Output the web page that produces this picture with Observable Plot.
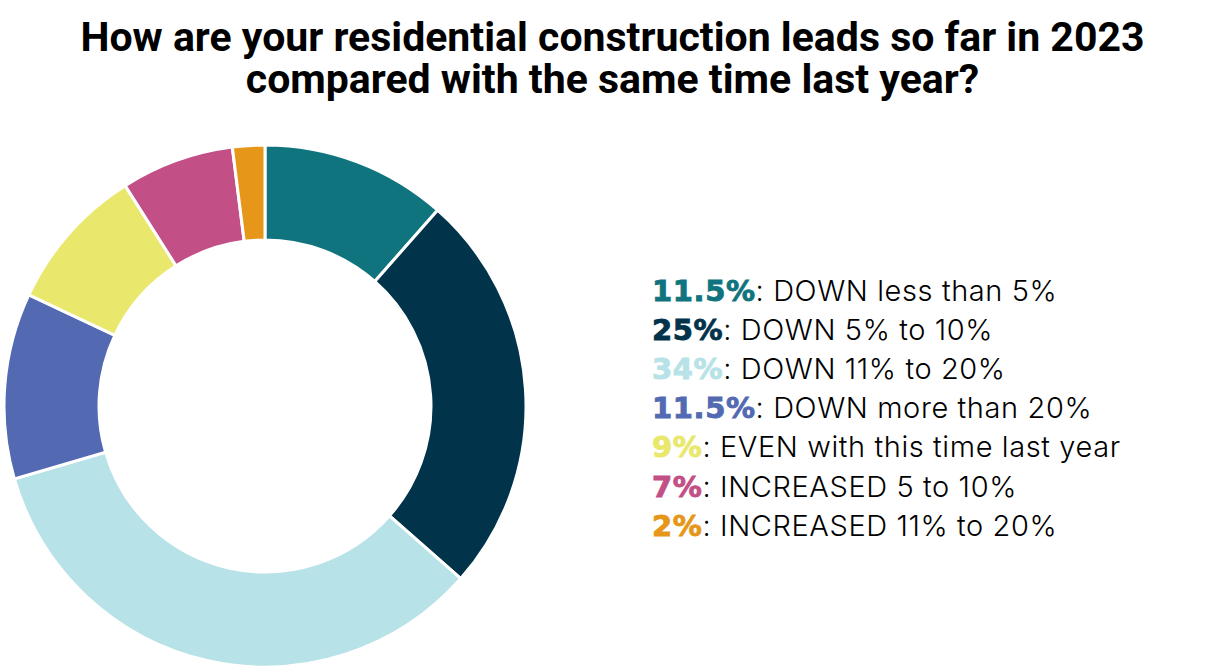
<!DOCTYPE html>
<html><head><meta charset="utf-8">
<script src="https://cdn.jsdelivr.net/npm/d3@7"></script>
<script src="https://cdn.jsdelivr.net/npm/@observablehq/plot@0.6"></script>
<style>
body{margin:0;background:#fff;}
#wrap{width:1225px;height:671px;position:relative;overflow:hidden;background:#fff;}
.title{position:absolute;left:0;width:1225px;text-align:center;font:700 41px/42px Roboto, sans-serif;color:#000;white-space:nowrap;}
#chart{position:absolute;left:0;top:120px;}
</style></head><body>
<div id="wrap">
<div class="title" style="top:16px">How are your residential construction leads so far in 2023</div>
<div class="title" style="top:58px">compared with the same time last year?</div>
<div id="chart"></div></div>
<script>
const categories = ["DOWN less than 5%", "DOWN 5% to 10%", "DOWN 11% to 20%", "DOWN more than 20%", "EVEN with this time last year", "INCREASED 5 to 10%", "INCREASED 11% to 20%"];
const shares = [11.5, 25, 34, 11.5, 9, 7, 2];
const shareLabels = ["11.5%", "25%", "34%", "11.5%", "9%", "7%", "2%"];
const colors = ["#10747e", "#01334b", "#b7e2e7", "#536ab3", "#e9e86d", "#c34f87", "#e6971a"];

const data = categories.map((c, i) => ({category: c, share: shares[i], label: shareLabels[i]}));
const arcs = d3.pie().value(d => d.share).sort(null)(data);
const innerRatio = 166 / 261;

function donutRender(index, scales, values) {
  const cx = scales.x(0), cy = scales.y(0);
  const R = scales.x(1) - scales.x(0);
  const arc = d3.arc().innerRadius(R * innerRatio).outerRadius(R);
  const g = d3.create("svg:g").attr("transform", `translate(${cx},${cy})`);
  g.selectAll("path").data(index).join("path")
    .attr("d", i => arc(arcs[i]))
    .attr("fill", i => values.fill[i])
    .attr("stroke", "#fff").attr("stroke-width", 3);
  return g.node();
}

function legendRender(index, scales, values) {
  const g = d3.create("svg:g").attr("text-anchor", "start");
  const t = g.selectAll("text").data(index).join("text")
    .attr("x", 652).attr("y", i => 180.5 + i * 39.2)
    .attr("font-size", 29).attr("text-anchor", "start");
  t.append("tspan").attr("font-family", "DejaVu Sans").attr("font-weight", "bold")
    .attr("letter-spacing", 0.6)
    .attr("fill", i => values.fill[i])
    .attr("stroke", i => values.fill[i]).attr("stroke-width", 0.9)
    .text(i => data[i].label);
  t.append("tspan").attr("font-family", "Inter").attr("font-weight", 300).attr("fill", "#000")
    .attr("letter-spacing", 0.6)
    .text(i => ": " + data[i].category);
  return g.node();
}

const chart = Plot.plot({
  width: 1225,
  height: 551,
  margin: 0,
  x: {domain: [-1, 1], range: [4, 526], axis: null},
  y: {domain: [-1, 1], range: [286 + 261, 286 - 261], axis: null},
  color: {domain: categories, range: colors},
  marks: [
    Plot.dot(data, {x: () => 0, y: () => 0, fill: "category", render: donutRender}),
    Plot.dot(data, {x: () => 0, y: () => 0, fill: "category", render: legendRender})
  ]
});
document.getElementById("chart").append(chart);
</script>
</body></html>
